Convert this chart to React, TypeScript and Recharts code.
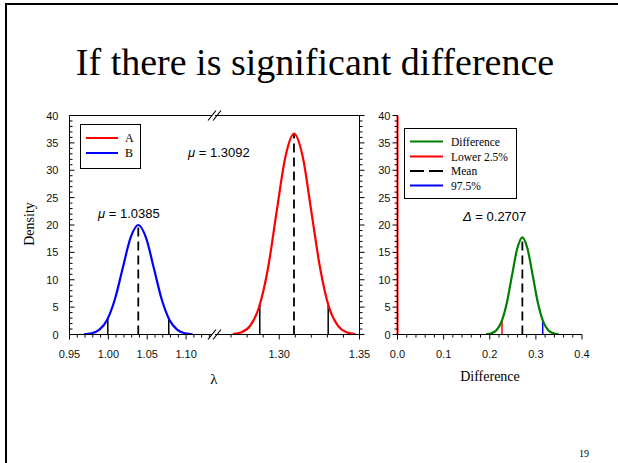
import React from 'react';
import { ComposedChart, Line, XAxis, YAxis, ReferenceLine, ReferenceDot } from 'recharts';

// ---- slide geometry ----
const W = 618;
const H = 463;
const PLOT_TOP = 115.5;
const PLOT_BOTTOM = 334.5;
const BREAK_X = 215;

// ---- values ----
const densityTicks = [0, 5, 10, 15, 20, 25, 30, 35, 40];
const lambdaTicksLow = [0.95, 1.0, 1.05, 1.1];
const lambdaTicksHigh = [1.3, 1.35];
const diffTicks = [0, 0.1, 0.2, 0.3, 0.4];

// group B posterior (blue)
const bLambda = [0.9685, 0.9785, 0.9885, 0.9985, 1.0085, 1.0185, 1.0285, 1.0385, 1.0485, 1.0585, 1.0685, 1.0785, 1.0885, 1.0985, 1.1085];
const bDensity = [0.04, 0.22, 0.88, 2.71, 6.49, 12.13, 17.65, 20.0, 17.65, 12.13, 6.49, 2.71, 0.88, 0.22, 0.04];

// group A posterior (red)
const aLambda = [1.2711, 1.2765, 1.282, 1.2874, 1.2929, 1.2983, 1.3038, 1.3092, 1.3147, 1.3201, 1.3256, 1.331, 1.3365, 1.3419, 1.3474];
const aDensity = [0.08, 0.41, 1.61, 4.97, 11.92, 22.26, 32.39, 36.7, 32.39, 22.26, 11.92, 4.97, 1.61, 0.41, 0.08];

// difference A - B (green)
const diffX = [0.192, 0.2033, 0.2145, 0.2257, 0.237, 0.2482, 0.2595, 0.2707, 0.2819, 0.2932, 0.3044, 0.3157, 0.3269, 0.3381, 0.3494];
const diffDensity = [0.04, 0.2, 0.78, 2.4, 5.76, 10.77, 15.66, 17.75, 15.66, 10.77, 5.76, 2.4, 0.78, 0.2, 0.04];

// [lower 2.5%, mean, upper 97.5%] and the curve height at each
const bMarks = [0.9993, 1.0385, 1.0777];
const bMarkHeights = [2.93, 20.0, 2.93];
const aMarks = [1.2879, 1.3092, 1.3305];
const aMarkHeights = [5.38, 36.7, 5.38];
const diffMarks = [0.2266, 0.2707, 0.3148];
const diffMarkHeights = [2.6, 17.75, 2.6];

const L1_DOMAIN: [number, number] = [0.95, 1.1372];
const L2_DOMAIN: [number, number] = [1.26, 1.35];

const steps = (from: number, to: number, step: number) => {
  const out: number[] = [];
  for (let v = from; v <= to + step / 2; v += step) out.push(Math.round(v * 1e4) / 1e4);
  return out;
};

const yMinor = steps(0, 40, 1);
const l1Minor = steps(0.95, 1.13, 0.01);
const l2Minor = steps(1.27, 1.35, 0.01);
const diffMinor = steps(0, 0.4, 0.02);

const bRows = bLambda.map((x, i) => ({ x, density: bDensity[i] }));
const aRows = aLambda.map((x, i) => ({ x, density: aDensity[i] }));
const diffRows = diffX.map((x, i) => ({ x, density: diffDensity[i] }));

const SANS = "'Liberation Sans', Arial, sans-serif";
const SERIF = "'Liberation Serif', 'Times New Roman', serif";
const tickText = { fontFamily: SANS, fontSize: 11, fill: '#111' };

type TickProps = { x: number; y: number; payload: { value: number } };

const isMajor = (majors: number[], v: number) => majors.some(m => Math.abs(m - v) < 1e-6);

const bottomTick = (majors: number[], digits: number) => (p: TickProps) => {
  const major = isMajor(majors, p.payload.value);
  return (
    <g>
      <line x1={p.x} x2={p.x} y1={p.y} y2={p.y + (major ? 5 : 3)} stroke="#000" />
      {major && (
        <text x={p.x} y={p.y + 23} textAnchor="middle" {...tickText}>
          {p.payload.value.toFixed(digits)}
        </text>
      )}
    </g>
  );
};

// dir: +1 draws the tick to the right of the axis, -1 to the left
const sideTick = (majors: number[], dir: number, labelGap: number | null) => (p: TickProps) => {
  const major = isMajor(majors, p.payload.value);
  return (
    <g>
      <line x1={p.x} x2={p.x + dir * (major ? 5 : 3)} y1={p.y} y2={p.y} stroke="#000" />
      {major && labelGap !== null && (
        <text x={p.x - labelGap} y={p.y + 4} textAnchor="end" {...tickText}>
          {p.payload.value}
        </text>
      )}
    </g>
  );
};

const BreakMark = (props: { cx?: number; cy?: number }) => {
  const cx = props.cx ?? 0;
  const cy = props.cy ?? 0;
  return (
    <g>
      <polygon points={`${cx - 4.6},${cy + 2} ${cx + 0.4},${cy + 2} ${cx + 3.6},${cy - 2} ${cx - 1.4},${cy - 2}`} fill="#fff" />
      <line x1={cx - 7} y1={cy + 5} x2={cx + 1} y2={cy - 5} stroke="#000" strokeWidth={1.2} />
      <line x1={cx - 2} y1={cy + 5} x2={cx + 6} y2={cy - 5} stroke="#000" strokeWidth={1.2} />
    </g>
  );
};

// axes are 1px boxes; the margins put the plot area on the slide coordinates
const plotMargin = (left: number, right: number, axisLeft: boolean) => ({
  top: PLOT_TOP,
  bottom: H - PLOT_BOTTOM - 1,
  left: axisLeft ? left - 1 : left,
  right: axisLeft ? W - right : W - right - 1,
});

const layer: React.CSSProperties = { position: 'absolute', left: 0, top: 0 };
const axisStroke = { stroke: '#000', strokeWidth: 1 };

const markLines = (xs: number[], hs: number[], colors: string[]) =>
  xs.map((x, i) => (
    <ReferenceLine
      key={`m${i}`}
      segment={[{ x, y: 0 }, { x, y: hs[i] }]}
      stroke={colors[i]}
      strokeWidth={i === 1 ? 1.8 : 1.5}
      strokeDasharray={i === 1 ? '9 5' : undefined}
    />
  ));

const App: React.FC = () => {
  return (
    <div style={{ position: 'absolute', left: 0, top: 0, width: W, height: H, overflow: 'hidden', background: '#fff' }}>
      {/* slide frame */}
      <div style={{ position: 'absolute', left: 5, top: 3, width: 700, height: 600, border: '2.5px solid #000' }} />

      {/* left panel, low segment of the broken lambda axis */}
      <div style={layer}>
        <ComposedChart width={W} height={H} data={bRows} margin={plotMargin(69.5, BREAK_X, true)}>
          <XAxis dataKey="x" type="number" domain={L1_DOMAIN} allowDataOverflow ticks={l1Minor} interval={0}
            tick={bottomTick(lambdaTicksLow, 2)} tickLine={false} tickSize={0} tickMargin={0} height={1} axisLine={axisStroke} />
          <YAxis type="number" domain={[0, 40]} allowDataOverflow ticks={yMinor} interval={0}
            tick={sideTick(densityTicks, 1, 11)} tickLine={false} tickSize={0} tickMargin={0} width={1} axisLine={axisStroke} />
          <ReferenceLine y={40} stroke="#000" />
          {markLines(bMarks, bMarkHeights, ['#000', '#000', '#000'])}
          <Line dataKey="density" type="monotone" stroke="#0000FF" strokeWidth={2.2} dot={false} isAnimationActive={false} />
          <ReferenceDot x={L1_DOMAIN[1]} y={0} r={0} ifOverflow="visible" shape={BreakMark} />
          <ReferenceDot x={L1_DOMAIN[1]} y={40} r={0} ifOverflow="visible" shape={BreakMark} />
        </ComposedChart>
      </div>

      {/* left panel, high segment */}
      <div style={layer}>
        <ComposedChart width={W} height={H} data={aRows} margin={plotMargin(BREAK_X, 359.5, false)}>
          <XAxis dataKey="x" type="number" domain={L2_DOMAIN} allowDataOverflow ticks={l2Minor} interval={0}
            tick={bottomTick(lambdaTicksHigh, 2)} tickLine={false} tickSize={0} tickMargin={0} height={1} axisLine={axisStroke} />
          <YAxis orientation="right" type="number" domain={[0, 40]} allowDataOverflow ticks={yMinor} interval={0}
            tick={sideTick(densityTicks, 1, null)} tickLine={false} tickSize={0} tickMargin={0} width={1} axisLine={axisStroke} />
          <ReferenceLine y={40} stroke="#000" />
          {markLines(aMarks, aMarkHeights, ['#000', '#000', '#000'])}
          <Line dataKey="density" type="monotone" stroke="#FF0000" strokeWidth={2.2} dot={false} isAnimationActive={false} />
        </ComposedChart>
      </div>

      {/* right panel: difference */}
      <div style={layer}>
        <ComposedChart width={W} height={H} data={diffRows} margin={plotMargin(397.5, 582, true)}>
          <XAxis dataKey="x" type="number" domain={[0, 0.4]} allowDataOverflow ticks={diffMinor} interval={0}
            tick={bottomTick(diffTicks, 1)} tickLine={false} tickSize={0} tickMargin={0} height={1} axisLine={axisStroke} />
          <YAxis type="number" domain={[0, 40]} allowDataOverflow ticks={yMinor} interval={0}
            tick={sideTick(densityTicks, -1, 7)} tickLine={false} tickSize={0} tickMargin={0} width={1} axisLine={axisStroke} />
          <ReferenceLine x={0} stroke="#FF0000" strokeWidth={2} />
          {markLines(diffMarks, diffMarkHeights, ['#FF0000', '#000', '#0000FF'])}
          <Line dataKey="density" type="monotone" stroke="#008000" strokeWidth={2.2} dot={false} isAnimationActive={false} />
        </ComposedChart>
      </div>

      {/* titles, labels, annotations and legends */}
      <svg width={W} height={H} style={layer}>
        <text x={315} y={75} textAnchor="middle" fontFamily={SERIF} fontSize={38} fill="#000">
          If there is significant difference
        </text>
        <text transform="translate(34,224) rotate(-90)" textAnchor="middle" fontFamily={SERIF} fontSize={14} fill="#000">
          Density
        </text>
        <text x={214} y={384} textAnchor="middle" fontFamily={SERIF} fontSize={15} fill="#000">λ</text>
        <text x={490} y={381} textAnchor="middle" fontFamily={SERIF} fontSize={14} fill="#000">Difference</text>

        <text x={98} y={218} fontFamily={SANS} fontSize={13} fill="#000">
          <tspan fontStyle="italic">μ</tspan> = 1.0385
        </text>
        <text x={188} y={157} fontFamily={SANS} fontSize={13} fill="#000">
          <tspan fontStyle="italic">μ</tspan> = 1.3092
        </text>
        <text x={463} y={221} fontFamily={SANS} fontSize={13} fill="#000">
          <tspan fontStyle="italic">Δ</tspan> = 0.2707
        </text>

        <rect x={80.5} y={124.5} width={60} height={44} fill="#fff" stroke="#000" />
        <line x1={86} x2={118} y1={138} y2={138} stroke="#FF0000" strokeWidth={2} />
        <text x={125} y={142} fontFamily={SERIF} fontSize={12} fill="#000">A</text>
        <line x1={86} x2={118} y1={153} y2={153} stroke="#0000FF" strokeWidth={2} />
        <text x={125} y={157} fontFamily={SERIF} fontSize={12} fill="#000">B</text>

        <rect x={404.5} y={128.5} width={112} height={70} fill="#fff" stroke="#000" />
        <line x1={410} x2={443} y1={141.5} y2={141.5} stroke="#008000" strokeWidth={2} />
        <text x={451} y={145.5} fontFamily={SERIF} fontSize={11.5} fill="#000">Difference</text>
        <line x1={410} x2={443} y1={156.5} y2={156.5} stroke="#FF0000" strokeWidth={2} />
        <text x={451} y={160.5} fontFamily={SERIF} fontSize={11.5} fill="#000">Lower 2.5%</text>
        <line x1={410} x2={443} y1={171} y2={171} stroke="#000" strokeWidth={2} strokeDasharray="14 5" />
        <text x={451} y={175} fontFamily={SERIF} fontSize={11.5} fill="#000">Mean</text>
        <line x1={410} x2={443} y1={185.5} y2={185.5} stroke="#0000FF" strokeWidth={2} />
        <text x={451} y={189.5} fontFamily={SERIF} fontSize={11.5} fill="#000">97.5%</text>

        <text x={584} y={457} textAnchor="middle" fontFamily={SERIF} fontSize={10} fill="#000">19</text>
      </svg>
    </div>
  );
};

export default App;
